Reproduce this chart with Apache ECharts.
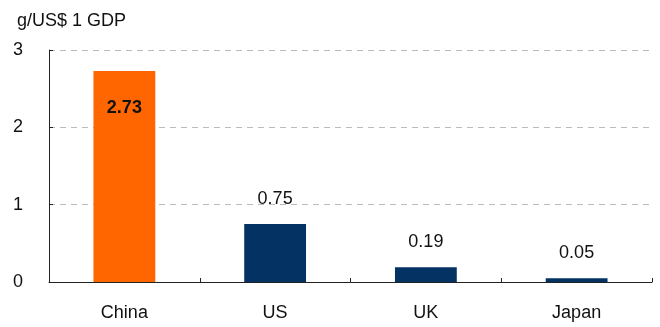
<!DOCTYPE html>
<html>
<head>
<meta charset="utf-8">
<script src="https://cdn.jsdelivr.net/npm/echarts@6/dist/echarts.min.js"></script>
<style>html,body{margin:0;padding:0;background:#fff}#c{width:660px;height:327px}</style>
</head>
<body>
<div id="c"></div>
<script>
const categories = ['China', 'US', 'UK', 'Japan'];
const values = [2.73, 0.75, 0.19, 0.05];
const yTicks = [0, 1, 2, 3];
const unitLabel = 'g/US$ 1 GDP';

const font = '"Liberation Sans", Arial, sans-serif';
const chart = echarts.init(document.getElementById('c'), null, {renderer: 'canvas'});
chart.setOption({
  animation: false,
  backgroundColor: '#fff',
  title: {
    text: unitLabel, left: 12, top: 7,
    textStyle: {fontFamily: font, fontSize: 18, fontWeight: 'normal', color: '#111'}
  },
  grid: {left: 49, right: 8, top: 50, bottom: 45, containLabel: false},
  xAxis: {
    type: 'category', data: categories,
    axisLine: {lineStyle: {color: '#222', width: 1}},
    axisTick: {show: true, inside: true, length: 4, lineStyle: {color: '#222'}},
    axisLabel: {fontFamily: font, fontSize: 18, color: '#111', margin: 22}
  },
  yAxis: {
    type: 'value', min: yTicks[0], max: yTicks[yTicks.length - 1], interval: 1,
    axisLine: {show: true, lineStyle: {color: '#222', width: 1}},
    axisTick: {show: true, inside: true, length: 4, lineStyle: {color: '#222'}},
    axisLabel: {fontFamily: font, fontSize: 18, color: '#111', margin: 26},
    splitLine: {show: true, lineStyle: {color: '#bbb', type: [6, 5], width: 1}}
  },
  series: [{
    type: 'bar', barWidth: '41%',
    data: values.map((v, i) => ({
      value: v,
      itemStyle: {color: i === 0 ? '#FF6600' : '#033263'},
      label: i === 0 ? {position: 'insideTop', distance: 28, fontWeight: 'bold'} : {}
    })),
    label: {
      show: true, position: 'top', distance: 16,
      fontFamily: font, fontSize: 18, color: '#111',
      formatter: p => p.value.toFixed(2)
    }
  }]
});
</script>
</body>
</html>
